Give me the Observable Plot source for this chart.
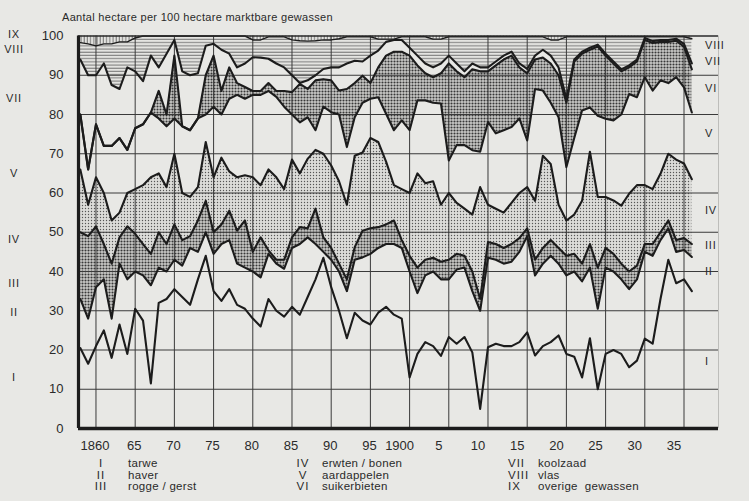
<!DOCTYPE html>
<html><head><meta charset="utf-8">
<script src="https://cdn.jsdelivr.net/npm/d3@7"></script>
<script src="https://cdn.jsdelivr.net/npm/@observablehq/plot@0.6"></script>
<style>
html,body{margin:0;padding:0;background:#e8e8e5;}
#chart svg{display:block;}
</style></head><body><div id="chart"></div>
<script>
// Cumulative share (hectare per 100 ha) at the top of each crop band, 1858-1936
const years = d3.range(1858, 1937);
const topI = [20.5,16.5,21,25,18,26.5,19,30.5,27.5,11.5,
 32,33,35.5,33.5,31.5,38,44,35,32.5,35.5,
 31.5,30.5,28,26,33,30,28.5,31,29,33.5,
 38,43.5,36,30,23,29.5,27.5,26.5,29.5,31,
 29,28,13,19,22,21,18.5,23.3,21.6,23.3,
 19.4,5,20.7,21.6,21,21,22,24.5,18.6,21,
 22,23.7,19,18.3,13,23,10,19,20,19,
 15.6,17.3,22.9,21.6,33,43,37,38,35];
const topII = [33,28,36,38,28,42,38,40,39,36.5,
 41,40,43,41.5,46,45,50,44.5,47,48,
 42,41,40,38.5,44.5,42,40.7,46,47,48.7,
 47,45,43,40,35,43,43.6,44.5,46,47,
 47,46,40,34.5,39,40,38,38,40.5,41,
 35,30,43.5,43,42,42.5,45,49,39,42,
 44,42,39,40,37.5,41,30.5,41,40,38,
 35.5,38,45,44,48,51,45,45.5,43.7];
const topIII = [50,49,51.5,47,42,48.7,51.5,49.6,47,44.5,
 50,47,52,48,49,53,58,50,52,55.5,
 50.4,53,45,48.7,45.4,43,43,48.7,51.3,51,
 56,48.7,46,42,38,46.2,50.4,51,51.3,52,
 53,48,44,41,43,43.5,42.5,43,44.5,44,
 40,33,47.5,47,46,47,48.5,51,43,46,
 48,46,44,44.5,42,47,41,46,44.5,42,
 40,41.5,47,47,50,53,48,48.5,47];
const topIV = [66,57,64,60,53,55,60,61,62,64,
 65,61.5,70,60,59,61.5,73,64,69,65.5,
 64,64.5,64,62,66,64,61,68.5,65,68.7,
 71,70,67,63,57,69.5,70.3,74,73,68,
 62,61,60,65,62.5,63,57,60,57.5,56,
 54.5,61.5,57,56,55,57.5,60,61.5,58,69.5,
 67.4,57,53,54.5,58,70.5,59,59,58.1,56.8,
 59.8,62,62,61,64.9,70,68.5,67.5,63.5];
const topV = [80,66,77.5,72,72,74,71,76.5,77.5,80.5,
 79,77,79,77,76,79,80,82,80,84,
 85,84,85,85,86,84.5,82,80,78,79.3,
 76,82,80.6,80,71.7,79.3,83,84,84.4,80.2,
 76,78.5,76,83.6,83.6,83,82.8,68.3,72.2,72.2,
 70.9,70.5,78.1,75.2,76,76.8,79,73.4,86.5,86.1,
 83,79.3,66.6,74,81,81.8,79.7,78.9,78.5,80,
 85.2,84.4,89.5,86.1,88.7,88,89.5,86.9,80.5];
const topVI = [80,66,77.5,72,72,74,71,76.5,77.5,80.5,
 86,80,95,77,76,79,90,95,86,92,
 88,87,86,86,88,86,86,85.7,87.8,86.5,
 88.7,89,88.7,86.1,86.5,88,89.9,88,92,95,
 96,96,95,92.5,90.5,89.5,90.5,93,91,89.5,
 91.5,91,91,92.5,94,95,92,90.5,94,94.5,
 93,90,83,93.5,95.5,96.5,97.3,95,93,91,
 92,93.5,99,98.2,98.5,98.5,98.8,97.3,91.5];
const topVII = [94,90,90,93,87.5,86.5,92,91,88.5,95,
 92,95.5,99,91,90,90.5,97.5,98,96.5,95.5,
 92,93,94.6,94.5,94.2,93,92,90,88,88.7,
 90,91.6,92,92,93,93.7,93.5,95,96.3,98.5,
 99,99,97,95,93,92,93,95,93,91,
 93,92,92,93.5,95,96,93,91.6,95,96.5,
 95,92,84,94,96,97,97.8,95.5,93.5,91.5,
 92.5,94,99.5,98.7,99,99,99.3,98,93];
const topVIII = [98.3,98,97.5,98,98,98.5,98.5,99.5,100,100,
 100,100,100,100,100,100,100,100,100,100,
 100,100,99,99,99.8,99.8,99.8,99,98.8,98.7,
 98.8,99,99,99.3,99.8,99.8,99.8,99.8,99.2,99.2,
 99.2,99.8,99.8,99.8,99.8,99.2,99.2,99.8,99.8,99.8,
 99.8,99.8,99.8,99.8,99.8,99.8,99.8,99.8,99.8,99.8,
 99,99,99.8,99.8,99.8,99.8,99.8,99.8,99.8,99.8,
 99.8,99.8,99.8,99.8,99.8,99.8,99.8,99.8,99.3];

const numerals = ["I","II","III","IV","V","VI","VII","VIII","IX"];
const cropNames = ["tarwe","haver","rogge / gerst","erwten / bonen","aardappelen","suikerbieten","koolzaad","vlas","overige  gewassen"];
const tickYears = [1860,1865,1870,1875,1880,1885,1890,1895,1900,1905,1910,1915,1920,1925,1930,1935];
const tickLabels = ["1860","65","70","75","80","85","90","95","1900","5","10","15","20","25","30","35"];
const yTicks = [0,10,20,30,40,50,60,70,80,90,100];
const title = "Aantal hectare per 100 hectare marktbare gewassen";
// label positions (value on y axis) for band names at left and right edge
const leftLabels = [["IX",100.3],["VIII",96.6],["VII",84],["V",65],["IV",48],["III",37],["II",29.5],["I",13]];
const rightLabels = [["VIII",97.5],["VII",93.5],["VI",86.5],["V",75],["IV",55.5],["III",46.5],["II",40],["I",17]];

const tops = [topI,topII,topIII,topIV,topV,topVI,topVII,topVIII];
const rows = years.map((year,i) => {
  const r = {year, c0: 0, c9: 100};
  tops.forEach((t,k) => r["c"+(k+1)] = t[i]);
  return r;
});
const fills = ["none","none","url(#pDark)","url(#pLight)","none","url(#pDark)","none","url(#pH)","url(#pV)"];
const labelOf = new Map(tickYears.map((y,i)=>[y,tickLabels[i]]));

const areaMarks = fills.map((f,k) => Plot.areaY(rows, {x:"year", y1:"c"+k, y2:"c"+(k+1), fill:f, stroke:"none"}));
const lineMarks = d3.range(1,9).map(k => Plot.lineY(rows, {x:"year", y:"c"+k, stroke:"#1c1c1c", strokeWidth: k===8 ? 1.4 : 2.1, strokeLinejoin:"round"}));

const chart = Plot.plot({
  width: 749, height: 501,
  marginLeft: 78, marginRight: 31, marginTop: 35.5, marginBottom: 73,
  style: {background:"transparent", fontFamily:"'Liberation Sans', Arial, sans-serif", fontSize:"13px", color:"#2a2a2a"},
  x: {domain:[1857.77, 1939.4]},
  y: {domain:[0,100]},
  marks: [
    ...areaMarks,
    Plot.ruleX(tickYears, {stroke:"#3a3a3a", strokeWidth:1}),
    Plot.ruleY(yTicks.slice(1,10), {stroke:"#3a3a3a", strokeWidth:1}),
    Plot.ruleX([1939.4], {stroke:"#bdbdba", strokeWidth:1}),
    ...lineMarks,
    Plot.ruleY([100], {stroke:"#2a2a2a", strokeWidth:1.6}),
    Plot.ruleX([1857.77], {stroke:"#1c1c1c", strokeWidth:3.2}),
    Plot.ruleY([0], {stroke:"#1c1c1c", strokeWidth:3.4}),
    Plot.axisY(yTicks, {tickSize:0, tickPadding:15, fontSize:13, label:null}),
    Plot.axisX(tickYears.filter(y=>y<1900), {tickSize:0, tickPadding:12, fontSize:13, label:null, tickFormat:d=>labelOf.get(d), dx:-1}),
    Plot.axisX(tickYears.filter(y=>y>=1900), {tickSize:0, tickPadding:12, fontSize:13, label:null, tickFormat:d=>labelOf.get(d), dx:-10})
  ]
});
document.getElementById("chart").appendChild(chart);

const svg = d3.select(chart);
const defs = svg.insert("defs", ":first-child");
const pd = defs.append("pattern").attr("id","pDark").attr("width",3).attr("height",3).attr("patternUnits","userSpaceOnUse");
pd.append("rect").attr("width",3).attr("height",3).attr("fill","#cacac7");
pd.append("circle").attr("cx",1.5).attr("cy",1.5).attr("r",1.05).attr("fill","#383838");
const pl = defs.append("pattern").attr("id","pLight").attr("width",3).attr("height",3).attr("patternUnits","userSpaceOnUse");
pl.append("rect").attr("width",3).attr("height",3).attr("fill","#dcdcd9");
pl.append("circle").attr("cx",1.5).attr("cy",1.5).attr("r",0.7).attr("fill","#555");
const ph = defs.append("pattern").attr("id","pH").attr("width",4).attr("height",3.2).attr("patternUnits","userSpaceOnUse");
ph.append("rect").attr("width",4).attr("height",3.2).attr("fill","#e4e4e1");
ph.append("line").attr("x1",0).attr("x2",4).attr("y1",1).attr("y2",1).attr("stroke","#6a6a6a").attr("stroke-width",0.9);
const pv = defs.append("pattern").attr("id","pV").attr("width",3.2).attr("height",4).attr("patternUnits","userSpaceOnUse");
pv.append("rect").attr("width",3.2).attr("height",4).attr("fill","#e4e4e1");
pv.append("line").attr("y1",0).attr("y2",4).attr("x1",1).attr("x2",1).attr("stroke","#6a6a6a").attr("stroke-width",0.9);

const ys = chart.scale("y");
const g = svg.append("g").attr("font-family","'Liberation Sans', Arial, sans-serif").attr("fill","#2a2a2a").attr("text-anchor","start");
g.append("text").attr("x",62).attr("y",21).attr("text-anchor","start").attr("font-size",11).attr("letter-spacing",0.3).text(title);
leftLabels.forEach(([t,v]) => g.append("text").attr("x",14).attr("y",ys.apply(v)).attr("dy","0.35em").attr("text-anchor","middle").attr("font-size",11).attr("letter-spacing",0.8).text(t));
rightLabels.forEach(([t,v]) => g.append("text").attr("x",705).attr("y",ys.apply(v)).attr("dy","0.35em").attr("text-anchor","start").attr("font-size",11).attr("letter-spacing",0.8).text(t));
// legend columns: numeral position, numeral anchor, name position
const cols = [[101,"middle",128],[303,"middle",322],[508,"start",538]];
numerals.forEach((n,i) => {
  const col = Math.floor(i/3), row = i%3;
  const yy = 467 + row*11.5;
  g.append("text").attr("x",cols[col][0]).attr("y",yy).attr("text-anchor",cols[col][1]).attr("font-size",11.5).attr("letter-spacing",1).text(n);
  g.append("text").attr("x",cols[col][2]).attr("y",yy).attr("text-anchor","start").attr("font-size",11.5).attr("letter-spacing",0.3).text(cropNames[i]);
});
</script></body></html>
